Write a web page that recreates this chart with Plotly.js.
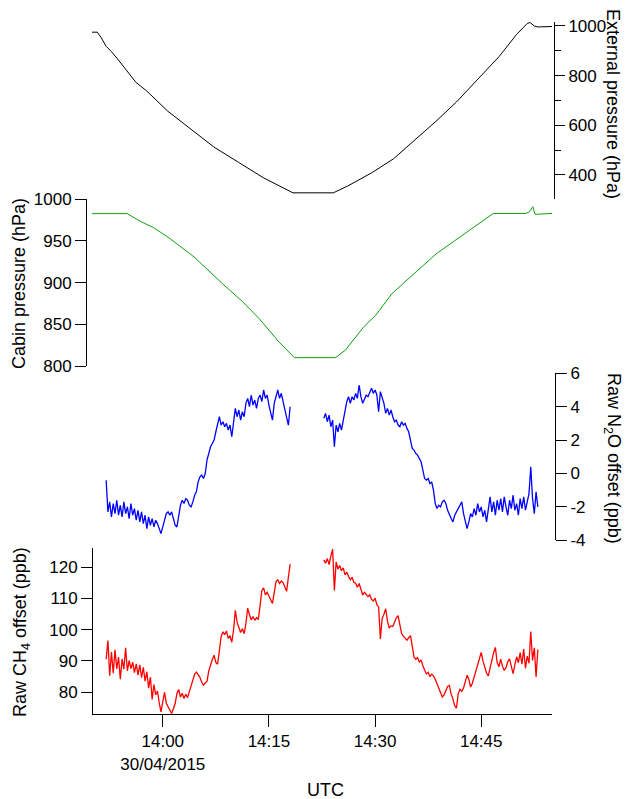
<!DOCTYPE html>
<html>
<head>
<meta charset="utf-8">
<script src="https://cdn.plot.ly/plotly-3.0.1.min.js"></script>
<style>html,body{margin:0;padding:0;background:#fff;}#chart{width:633px;height:799px;}</style>
</head>
<body>
<div id="chart"></div>
<script>
// Time in minutes after 13:50 UTC, 30/04/2015
const extT = [0, 0.75, 1.25, 2.0, 2.74, 3.74, 6.2, 7.7, 10.7, 13.2, 17.2, 20.7, 24.2, 28.4, 34.1, 36.1, 39.6, 42.6, 45.6, 48.6, 51.5, 55.0, 57.5, 60.0, 61.5, 61.9, 62.5, 63.0, 64.0, 65.0];
const extP = [975, 975, 955, 918, 897, 863, 773, 739, 657, 602, 513, 451, 389, 328, 328, 355, 410, 465, 540, 616, 694, 801, 876, 966, 1010, 1014, 1000, 996, 996, 998];

const cabT = [0, 4.97, 6.97, 8.7, 11.0, 14.4, 18.4, 21.3, 23.6, 26.4, 28.6, 34.4, 35.8, 38.4, 40.1, 42.4, 45.8, 48.7, 52.7, 56.7, 61.3, 61.8, 62.3, 62.6, 65.0];
const cabP = [982.8, 982.8, 973, 966, 953, 931, 899, 877, 857, 829, 810, 810, 819, 847, 861, 887, 913, 935, 959, 983, 983, 985, 991, 982, 983];

const segT1 = [2,2.25,2.5,2.75, 3,3.25,3.5,3.75, 4,4.25,4.5,4.75, 5,5.25,5.5,5.75, 6,6.25,6.5,6.75, 7,7.25,7.5,7.75, 8,8.25,8.5,8.75, 9,9.25,9.5,9.75, 10,10.25,10.5,10.75, 11,11.25,11.5,11.75, 12,12.25,12.5,12.75, 13,13.25,13.5,13.75, 14,14.25,14.5,14.75, 15,15.25,15.5,15.75, 16,16.25,16.5,16.75, 17,17.25,17.5,17.75, 18,18.25,18.5,18.75, 19,19.25,19.5,19.75, 20,20.25,20.5,20.75, 21,21.25,21.5,21.75, 22,22.25,22.5,22.75, 23,23.25,23.5,23.75, 24,24.25,24.5,24.75, 25,25.25,25.5,25.75, 26,26.25,26.5,26.75, 27,27.25,27.5,27.75, 28];
const segT2 = [32.75, 33,33.25,33.5,33.75, 34,34.25,34.5,34.75, 35,35.25,35.5,35.75, 36,36.25,36.5,36.75, 37,37.25,37.5,37.75, 38,38.25,38.5,38.75, 39,39.25,39.5,39.75, 40,40.25,40.5,40.75, 41,41.25,41.5,41.75, 42,42.25,42.5,42.75, 43,43.25,43.5,43.75, 44,44.25,44.5,44.75, 45,45.25,45.5,45.75, 46,46.25,46.5,46.75, 47,47.25,47.5,47.75, 48,48.25,48.5,48.75, 49,49.25,49.5,49.75, 50,50.25,50.5,50.75, 51,51.25,51.5,51.75, 52,52.25,52.5,52.75, 53,53.25,53.5,53.75, 54,54.25,54.5,54.75, 55,55.25,55.5,55.75, 56,56.25,56.5,56.75, 57,57.25,57.5,57.75, 58,58.25,58.5,58.75, 59,59.25,59.5,59.75, 60,60.25,60.5,60.75, 61,61.25,61.5,61.75, 62,62.25,62.5,62.75, 63];

const n2o1 = [-0.4,-2.3,-1.7,-2.6, -1.8,-2.4,-1.6,-2.5, -1.9,-2.6,-1.7,-2.4, -2.0,-2.7,-1.8,-2.5, -2.1,-2.8,-2.2,-2.9, -2.3,-3.0,-2.5,-3.3, -2.6,-3.1,-2.7,-3.2, -2.8,-3.0,-3.3,-3.6, -3.2,-2.7,-2.4,-2.3, -2.5,-2.3,-2.7,-3.1, -3.2,-2.5,-1.9,-1.6, -1.8,-1.5,-1.6,-1.9, -2.0,-1.7,-1.3,-1.1, -0.5,-0.2,-0.1,-0.3, 0.0,0.8,1.3,1.6, 1.8,2.0,2.5,3.0, 3.4,2.9,3.1,2.8, 3.0,2.6,2.9,2.2, 3.2,3.9,3.4,3.8, 3.2,3.7,3.4,4.2, 4.5,4.0,4.7,4.1, 4.4,3.9,4.5,4.7, 4.3,5.0,4.5,4.7, 4.1,3.6,3.2,4.2, 4.6,5.0,4.5,4.8, 4.3,3.8,3.3,2.9, 4.0];
const n2o2 = [3.3, 3.6,3.1,3.5,2.8, 3.2,1.6,2.9,2.5, 3.0,2.6,3.2,3.9, 4.3,4.6,4.2,4.6, 4.4,4.8,4.5,5.3, 4.6,4.2,4.5,4.7, 4.6,4.9,5.1,4.8, 5.0,4.7,3.7,4.9, 4.6,4.2,3.6,3.9, 3.5,3.8,3.4,3.1, 3.2,2.9,2.8,3.1, 2.9,3.0,2.7,2.5, 2.0,1.5,1.4,1.2, 1.1,0.9,0.7,0.2, -0.3,-0.4,-0.3,-0.6, -0.5,-1.0,-1.8,-2.1, -1.9,-2.0,-1.7,-1.6, -1.8,-2.2,-2.5,-2.7, -2.9,-2.5,-2.3,-2.1, -1.9,-1.7,-2.4,-2.8, -3.3,-2.9,-2.4,-2.6, -2.1,-2.5,-1.8,-2.3, -2.0,-2.6,-2.2,-2.9, -2.2,-1.4,-2.3,-1.7, -2.5,-1.6,-2.2,-1.5, -2.3,-1.4,-2.0,-2.5, -1.6,-2.1,-1.3,-2.2, -1.8,-2.5,-1.5,-2.1, -1.4,-2.2,-1.7,-1.2, 0.4,-1.5,-2.4,-1.1, -2.0];

const ch41 = [90.5,96.5,85.2,92.8, 86.0,93.5,87.4,91.2, 84.1,90.6,87.3,94.2, 86.8,90.1,87.5,89.6, 86.2,89.0,85.4,88.7, 84.6,87.9,83.5,86.5, 81.2,84.8,77.6,82.4, 79.1,80.3,76.5,73.6, 76.8,79.9,76.4,75.2, 73.8,73.1,74.6,76.3, 79.5,80.8,78.4,79.6, 77.9,79.3,78.2,80.1, 81.5,83.6,85.7,86.4, 85.6,84.7,83.1,82.2, 82.9,83.4,86.8,88.9, 90.4,91.8,89.5,88.9, 93.2,97.8,99.3,98.4, 99.6,97.2,98.1,95.9, 99.8,106.2,102.4,100.9, 99.1,100.3,98.7,102.0, 106.9,104.8,103.1,104.2, 103.0,103.9,103.2,107.8, 112.6,113.4,111.2,112.0, 110.6,109.3,108.4,111.9, 115.4,116.0,114.8,115.6, 115.1,113.7,112.3,116.8, 121.0];
const ch42 = [122.4, 121.3,122.8,120.9,123.6, 125.8,112.6,121.7,119.4, 120.6,118.9,119.8,117.6, 118.5,117.1,116.0,116.8, 115.2,114.9,113.6,114.8, 112.7,111.1,112.0,111.4, 110.6,111.2,109.7,109.2, 110.1,108.0,107.3,97.0, 103.6,104.9,106.7,102.8, 100.5,101.2,101.0,102.4, 103.8,104.5,101.6,98.7, 97.9,97.2,96.6,97.4, 98.1,94.8,91.2,90.5, 91.0,89.6,90.3,88.4, 86.9,85.8,86.3,84.9, 85.7,85.2,84.1,82.6, 81.0,79.6,78.4,79.1, 80.2,81.8,82.1,79.3, 77.8,75.6,74.8,79.5, 80.9,80.2,81.3,83.5, 85.4,84.1,81.6,82.8, 84.9,87.3,88.6,91.4, 92.7,89.9,87.6,86.1, 85.2,87.9,90.8,92.6, 94.3,89.4,88.1,90.5, 88.3,86.9,87.8,89.7, 90.6,88.2,85.9,88.7, 91.3,89.4,92.6,88.9, 93.8,87.6,91.5,89.2, 99.4,90.1,94.2,84.8, 93.6];

const xTickMinutes = [10, 25, 40, 55];
const xTickText = ['14:00<br>30/04/2015', '14:15', '14:30', '14:45'];
const n2oTickVals = [-4, -2, 0, 2, 4, 6];
const n2oTickText = ['-4', '-2', '0', '2', '4', '6'];

function toTime(m) {
  const d = new Date(Date.UTC(2015, 3, 30, 13, 50, 0) + Math.round(m * 60000));
  const p = n => String(n).padStart(2, '0');
  return d.getUTCFullYear() + '-' + p(d.getUTCMonth() + 1) + '-' + p(d.getUTCDate()) + ' ' +
         p(d.getUTCHours()) + ':' + p(d.getUTCMinutes()) + ':' + p(d.getUTCSeconds());
}

const W = 633, H = 799;
const px = v => v / W;
const py = v => 1 - v / H;
const FONT = 'Liberation Sans, Arial, sans-serif';

const traces = [
  {x: extT.map(toTime), y: extP, xaxis: 'x', yaxis: 'y', mode: 'lines', line: {color: '#000000', width: 1}},
  {x: cabT.map(toTime), y: cabP, xaxis: 'x', yaxis: 'y2', mode: 'lines', line: {color: '#10a010', width: 1}},
  {x: segT1.map(toTime), y: n2o1, xaxis: 'x', yaxis: 'y3', mode: 'lines', line: {color: '#0000ff', width: 1.3}},
  {x: segT2.map(toTime), y: n2o2, xaxis: 'x', yaxis: 'y3', mode: 'lines', line: {color: '#0000ff', width: 1.3}},
  {x: segT1.map(toTime), y: ch41, xaxis: 'x', yaxis: 'y4', mode: 'lines', line: {color: '#ff0000', width: 1.3}},
  {x: segT2.map(toTime), y: ch42, xaxis: 'x', yaxis: 'y4', mode: 'lines', line: {color: '#ff0000', width: 1.3}}
];

const axFont = {family: FONT, size: 17, color: '#000'};
const common = {showgrid: false, zeroline: false, showline: true, linecolor: '#000', linewidth: 1,
  ticks: 'outside', tickcolor: '#000', tickwidth: 1, tickfont: axFont, automargin: false, fixedrange: true};

const layout = {
  width: W, height: H,
  margin: {l: 0, r: 0, t: 0, b: 0, pad: 0},
  paper_bgcolor: '#fff', plot_bgcolor: 'rgba(0,0,0,0)',
  showlegend: false,
  xaxis: Object.assign({}, common, {
    type: 'date', domain: [px(92), px(552)], anchor: 'y4',
    range: [toTime(0), toTime(65)],
    tickmode: 'array', tickvals: xTickMinutes.map(toTime), ticktext: xTickText,
    ticklen: 12
  }),
  yaxis: Object.assign({}, common, {
    domain: [py(199.3), py(22)], range: [302, 1016], anchor: 'free', position: px(554), side: 'right',
    tick0: 0, dtick: 200, ticklen: 10,
    minor: {dtick: 100, tick0: 0, ticklen: 6, ticks: 'outside', tickcolor: '#000', showgrid: false}
  }),
  yaxis2: Object.assign({}, common, {
    domain: [py(366), py(199.3)], range: [800, 1000], anchor: 'free', position: px(86), side: 'left',
    tick0: 800, dtick: 50, ticklen: 11
  }),
  yaxis3: Object.assign({}, common, {
    domain: [py(540.3), py(373.3)], range: [-4, 6], anchor: 'free', position: px(555), side: 'right',
    tickmode: 'array', tickvals: n2oTickVals, ticktext: n2oTickText, ticklen: 11
  }),
  yaxis4: Object.assign({}, common, {
    domain: [py(714), py(548)], range: [72.94, 126.2], anchor: 'free', position: px(92), side: 'left',
    tickmode: 'array', tickvals: [80, 90, 100, 110, 120], ticklen: 11
  }),
  annotations: [
    {text: 'External pressure (hPa)', x: px(613), y: py(104), textangle: 90},
    {text: 'Cabin pressure (hPa)', x: px(19), y: py(284), textangle: -90},
    {text: 'Raw N<sub>2</sub>O offset (ppb)', x: px(613), y: py(458), textangle: 90},
    {text: 'Raw CH<sub>4</sub> offset (ppb)', x: px(21), y: py(632), textangle: -90},
    {text: 'UTC', x: px(325), y: py(790), textangle: 0}
  ].map(a => Object.assign({xref: 'paper', yref: 'paper', showarrow: false, xanchor: 'center', yanchor: 'middle',
    font: {family: FONT, size: 18, color: '#000'}}, a))
};

Plotly.newPlot('chart', traces, layout, {staticPlot: true, displayModeBar: false});
</script>
</body>
</html>
